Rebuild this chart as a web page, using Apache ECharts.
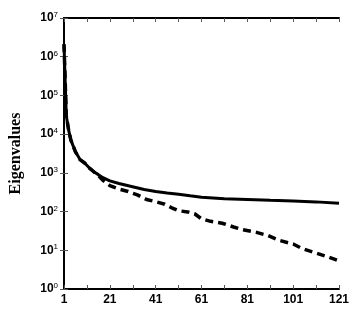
<!DOCTYPE html>
<html>
<head>
<meta charset="utf-8">
<script src="https://cdn.jsdelivr.net/npm/echarts@6/dist/echarts.min.js"></script>
<style>
  html, body { margin: 0; padding: 0; background: #fff; }
  #chart { width: 355px; height: 312px; }
</style>
</head>
<body>
<div id="chart"></div>
<script>
// === DATA ===
const solidX = [1, 2, 3, 4, 6, 8, 10, 12, 14, 16, 18, 21, 25, 30, 36, 41, 46, 51, 56, 61, 66, 71, 81, 91, 101, 111, 121];
const solidY = [2.1e6, 3e4, 1.3e4, 7e3, 3.5e3, 2.2e3, 1.8e3, 1.35e3, 1.07e3, 900, 750, 620, 530, 450, 370, 330, 300, 280, 255, 235, 225, 215, 205, 195, 188, 178, 163];

const dashX = [1, 2, 3, 4, 6, 8, 10, 12, 14, 16, 18, 21, 25, 29, 33, 37, 41, 45, 48, 51, 55, 58, 61, 65, 70, 75, 79, 85, 90, 95, 101, 105, 111, 116, 121];
const dashY = [2.1e6, 3e4, 1.3e4, 7e3, 3.5e3, 2.2e3, 1.8e3, 1.35e3, 1.07e3, 850, 640, 470, 380, 330, 270, 205, 180, 155, 125, 105, 98, 88, 65, 56, 50, 40, 34, 29, 24, 18, 14.5, 11, 8.5, 6.8, 5.3];

const xTickLabels = ['1', '21', '41', '61', '81', '101', '121'];
const yExponents = [0, 1, 2, 3, 4, 5, 6, 7];

// x is plotted as (index - 1) so the ticks can start at a multiple of 10
const toPairs = (xs, ys) => xs.map((x, i) => [x - 1, ys[i]]);

const chart = echarts.init(document.getElementById('chart'));

const axisLine = { show: true, lineStyle: { color: '#000', width: 2 } };
const axisTick = { show: true, inside: true, length: 4, lineStyle: { color: '#555', width: 1 } };

chart.setOption({
    backgroundColor: '#fff',
    animation: false,
    grid: { left: 63, right: 16, top: 18, bottom: 23 },
    xAxis: [{
        type: 'value',
        min: 0,
        max: 120,
        interval: 10,
        axisLine: axisLine,
        axisTick: axisTick,
        splitLine: { show: false },
        axisLabel: {
            color: '#000',
            fontFamily: 'Liberation Sans',
            fontWeight: 'bold',
            fontSize: 12,
            margin: 5,
            formatter: v => (v % 20 === 0 ? xTickLabels[v / 20] : '')
        }
    }, {
        type: 'value',
        position: 'top',
        min: 0,
        max: 120,
        interval: 10,
        axisLine: axisLine,
        axisTick: axisTick,
        axisLabel: { show: false },
        splitLine: { show: false }
    }],
    yAxis: [{
        type: 'log',
        logBase: 10,
        min: 1,
        max: 1e7,
        name: 'Eigenvalues',
        nameLocation: 'middle',
        nameGap: 40,
        nameTextStyle: {
            color: '#000',
            fontFamily: 'Liberation Serif',
            fontWeight: 'bold',
            fontSize: 16
        },
        axisLine: axisLine,
        axisTick: axisTick,
        splitLine: { show: false },
        axisLabel: {
            margin: 6,
            formatter: v => {
                const e = Math.round(Math.log10(v));
                return yExponents.includes(e) ? '{b|10}{s|' + e + '}' : '';
            },
            rich: {
                b: { color: '#000', fontFamily: 'Liberation Sans', fontSize: 12, fontWeight: 'bold' },
                s: { color: '#000', fontFamily: 'Liberation Sans', fontSize: 8, verticalAlign: 'top', padding: [0, 0, 6, 0] }
            }
        }
    }, {
        type: 'log',
        logBase: 10,
        position: 'right',
        min: 1,
        max: 1e7,
        axisLine: axisLine,
        axisTick: axisTick,
        axisLabel: { show: false },
        splitLine: { show: false }
    }],
    series: [{
        type: 'line',
        data: toPairs(dashX, dashY),
        symbol: 'none',
        lineStyle: { color: '#000', width: 3.5, type: [8, 5] }
    }, {
        type: 'line',
        data: toPairs(solidX, solidY),
        symbol: 'none',
        lineStyle: { color: '#000', width: 3 }
    }]
});
</script>
</body>
</html>
